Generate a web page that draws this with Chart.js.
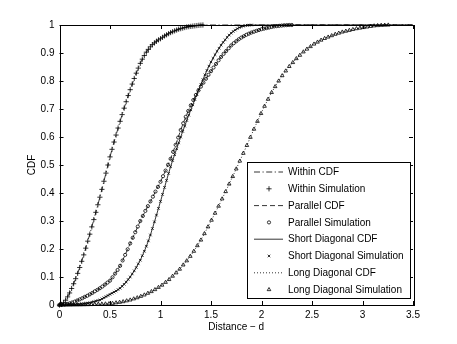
<!DOCTYPE html>
<html>
<head>
<meta charset="utf-8">
<script src="https://cdn.jsdelivr.net/npm/chart.js@4.4.1/dist/chart.umd.min.js"></script>
<style>
  html, body { margin: 0; padding: 0; background: #fff; }
  canvas { display: block; }
</style>
</head>
<body>
<canvas id="cdf" width="457" height="344" style="width:457px;height:344px"></canvas>
<script>
// bin spacing of each simulation (x runs from 0 in these steps)
const withinStep = 0.02;
const parallelStep = 0.025;
const shortStep = 0.02;
const longStep = 0.035;

const withinCdf = [
  0, 0.002, 0.008, 0.017, 0.029, 0.043, 0.059, 0.076, 0.094, 0.113,
  0.134, 0.156, 0.179, 0.203, 0.228, 0.253, 0.279, 0.305, 0.331, 0.358,
  0.385, 0.413, 0.442, 0.471, 0.5, 0.529, 0.556, 0.582, 0.607, 0.632,
  0.656, 0.68, 0.703, 0.726, 0.748, 0.769, 0.789, 0.809, 0.828, 0.846,
  0.863, 0.878, 0.891, 0.903, 0.913, 0.922, 0.93, 0.936, 0.942, 0.947,
  0.951, 0.956, 0.961, 0.965, 0.969, 0.973, 0.976, 0.979, 0.982, 0.985,
  0.987, 0.989, 0.991, 0.993, 0.994, 0.995, 0.996, 0.997, 0.998, 0.999,
  0.9995, 1
];
const parallelCdf = [
  0, 0.001, 0.002, 0.004, 0.006, 0.009, 0.012, 0.016, 0.02, 0.024,
  0.029, 0.033, 0.038, 0.043, 0.049, 0.054, 0.06, 0.066, 0.073, 0.08,
  0.087, 0.099, 0.112, 0.125, 0.14, 0.159, 0.179, 0.199, 0.22, 0.24,
  0.26, 0.28, 0.3, 0.318, 0.336, 0.353, 0.37, 0.387, 0.405, 0.422,
  0.44, 0.46, 0.48, 0.501, 0.522, 0.547, 0.572, 0.598, 0.625, 0.649,
  0.672, 0.693, 0.713, 0.732, 0.75, 0.766, 0.78, 0.794, 0.808, 0.822,
  0.835, 0.848, 0.861, 0.874, 0.886, 0.897, 0.907, 0.917, 0.927, 0.935,
  0.942, 0.949, 0.955, 0.96, 0.965, 0.969, 0.973, 0.976, 0.979, 0.982,
  0.985, 0.987, 0.989, 0.991, 0.993, 0.995, 0.996, 0.997, 0.998, 0.999,
  0.9995, 1, 1
];
const shortCdf = [
  0, 0, 0, 0.0002, 0.0004, 0.0006, 0.001, 0.0014, 0.002, 0.0025,
  0.003, 0.004, 0.005, 0.006, 0.007, 0.008, 0.01, 0.012, 0.014, 0.016,
  0.018, 0.022, 0.026, 0.03, 0.034, 0.038, 0.042, 0.046, 0.05, 0.055,
  0.06, 0.067, 0.074, 0.082, 0.091, 0.1, 0.111, 0.122, 0.134, 0.147,
  0.16, 0.176, 0.192, 0.21, 0.229, 0.25, 0.273, 0.297, 0.321, 0.345,
  0.37, 0.395, 0.42, 0.445, 0.47, 0.494, 0.516, 0.537, 0.558, 0.579,
  0.6, 0.62, 0.639, 0.659, 0.678, 0.697, 0.715, 0.734, 0.752, 0.77,
  0.788, 0.805, 0.822, 0.838, 0.853, 0.868, 0.881, 0.894, 0.906, 0.917,
  0.928, 0.938, 0.947, 0.956, 0.964, 0.971, 0.977, 0.982, 0.987, 0.991,
  0.994, 0.996, 0.998, 0.999, 0.9995, 1
];
const longCdf = [
  0, 0, 0, 0, 0.0002, 0.0004, 0.0006, 0.001, 0.0013, 0.0017,
  0.0022, 0.0028, 0.0034, 0.004, 0.0048, 0.006, 0.008, 0.0098, 0.012, 0.015,
  0.018, 0.022, 0.026, 0.031, 0.036, 0.042, 0.048, 0.055, 0.063, 0.071,
  0.081, 0.091, 0.103, 0.115, 0.128, 0.143, 0.158, 0.174, 0.192, 0.212,
  0.232, 0.255, 0.279, 0.303, 0.328, 0.353, 0.379, 0.405, 0.432, 0.459,
  0.486, 0.514, 0.542, 0.57, 0.599, 0.628, 0.656, 0.684, 0.71, 0.735,
  0.759, 0.78, 0.8, 0.819, 0.836, 0.852, 0.866, 0.88, 0.892, 0.904,
  0.914, 0.923, 0.932, 0.939, 0.946, 0.952, 0.957, 0.962, 0.967, 0.971,
  0.975, 0.978, 0.981, 0.984, 0.987, 0.989, 0.991, 0.993, 0.995, 0.997,
  0.998, 0.999, 0.9995, 1
];

const groupNames = ["Within", "Parallel", "Short Diagonal", "Long Diagonal"];
const xMax = 3.5;

const FONT = '"Liberation Sans", Arial, Helvetica, sans-serif';

function toPoints(ys, step) {
  return ys.map((y, i) => ({ x: +(i * step).toFixed(4), y: y }));
}

// matlab style tick text: 0, 0.5, 1 ...
function tickText(v) {
  return String(+Number(v).toFixed(2));
}

const groups = [
  { ys: withinCdf, step: withinStep, dash: [6, 2.5, 1.2, 2.5], marker: "cross", r: 2.6 },
  { ys: parallelCdf, step: parallelStep, dash: [5, 3], marker: "circle", r: 1.6 },
  { ys: shortCdf, step: shortStep, dash: [], marker: "crossRot", r: 1.8 },
  { ys: longCdf, step: longStep, dash: [1, 2], marker: "triangle", r: 2.1 },
];

const datasets = [];
groups.forEach((g, k) => {
  const pts = toPoints(g.ys, g.step);
  // theoretical curve stays at 1 up to the end of the axis
  datasets.push({
    label: groupNames[k] + " CDF",
    data: pts.concat([{ x: xMax, y: 1 }]),
    showLine: true,
    borderColor: "#000",
    borderWidth: 0.8,
    borderDash: g.dash,
    pointRadius: 0,
    fill: false,
    clip: false,
  });
  datasets.push({
    label: groupNames[k] + " Simulation",
    data: pts,
    showLine: false,
    pointStyle: g.marker,
    pointRadius: g.r,
    borderColor: "#000",
    backgroundColor: "rgba(255,255,255,0)",
    borderWidth: 0.8,
    clip: false,
  });
});

// axes box with inward ticks on all four sides (matlab look)
const boxTicks = {
  id: "boxTicks",
  afterDatasetsDraw(chart) {
    const { ctx, chartArea: a, scales } = chart;
    const len = 4;
    ctx.save();
    ctx.strokeStyle = "#000";
    ctx.lineWidth = 1;
    ctx.beginPath();
    scales.x.ticks.forEach((t) => {
      const px = Math.round(scales.x.getPixelForValue(t.value)) + 0.5;
      ctx.moveTo(px, a.bottom); ctx.lineTo(px, a.bottom - len);
      ctx.moveTo(px, a.top); ctx.lineTo(px, a.top + len);
    });
    scales.y.ticks.forEach((t) => {
      const py = Math.round(scales.y.getPixelForValue(t.value)) + 0.5;
      ctx.moveTo(a.left, py); ctx.lineTo(a.left + len, py);
      ctx.moveTo(a.right, py); ctx.lineTo(a.right - len, py);
    });
    ctx.stroke();
    ctx.strokeRect(Math.round(a.left) + 0.5, Math.round(a.top) + 0.5,
      Math.round(a.right - a.left), Math.round(a.bottom - a.top));
    ctx.restore();
  },
};

const boxLegend = {
  id: "boxLegend",
  afterDraw(chart) {
    const { ctx, chartArea: a } = chart;
    const w = 163, h = 136;
    const left = Math.round(a.right) - 3 - w;
    const top = Math.round(a.bottom) - 7 - h;
    ctx.save();
    ctx.fillStyle = "#fff";
    ctx.fillRect(left, top, w, h);
    ctx.strokeStyle = "#000";
    ctx.lineWidth = 1;
    ctx.strokeRect(left + 0.5, top + 0.5, w, h);
    ctx.font = "10px " + FONT;
    ctx.textBaseline = "middle";
    chart.data.datasets.forEach((ds, i) => {
      const y = top + 10 + i * 16.8;
      ctx.strokeStyle = "#000";
      if (ds.showLine) {
        ctx.setLineDash(ds.borderDash);
        ctx.lineWidth = ds.borderWidth;
        ctx.beginPath();
        ctx.moveTo(left + 7, y);
        ctx.lineTo(left + 36, y);
        ctx.stroke();
        ctx.setLineDash([]);
      } else {
        ctx.fillStyle = "rgba(255,255,255,0)";
        ctx.lineWidth = ds.borderWidth;
        Chart.helpers.drawPoint(ctx, { pointStyle: ds.pointStyle, radius: ds.pointRadius, borderWidth: ds.borderWidth, rotation: 0 }, left + 22, y);
      }
      ctx.fillStyle = "#000";
      ctx.fillText(ds.label, left + 41, y + 0.5);
    });
    ctx.restore();
  },
};

const ctx = document.getElementById("cdf").getContext("2d");
new Chart(ctx, {
  type: "scatter",
  data: { datasets: datasets },
  options: {
    responsive: false,
    animation: false,
    devicePixelRatio: 1,
    layout: { padding: { left: 0, top: 25, right: 44, bottom: 0 } },
    plugins: {
      legend: { display: false },
      tooltip: { enabled: false },
    },
    scales: {
      x: {
        type: "linear",
        min: 0,
        max: xMax,
        ticks: { stepSize: 0.5, padding: 4, color: "#000", font: { family: FONT, size: 10 }, callback: tickText },
        grid: { display: false, drawTicks: false },
        border: { display: false },
        title: { display: true, text: "Distance \u2212 d", color: "#000", font: { family: FONT, size: 10 }, padding: { top: 0, bottom: 11 } },
        afterFit(scale) { scale.height = 39; },
      },
      y: {
        type: "linear",
        min: 0,
        max: 1,
        ticks: { stepSize: 0.1, padding: 5, color: "#000", font: { family: FONT, size: 10 }, callback: tickText },
        grid: { display: false, drawTicks: false },
        border: { display: false },
        title: { display: true, text: "CDF", color: "#000", font: { family: FONT, size: 10 }, padding: { top: 26, bottom: 0 } },
        afterFit(scale) { scale.width = 59.5; },
      },
    },
  },
  plugins: [boxTicks, boxLegend],
});
</script>
</body>
</html>
